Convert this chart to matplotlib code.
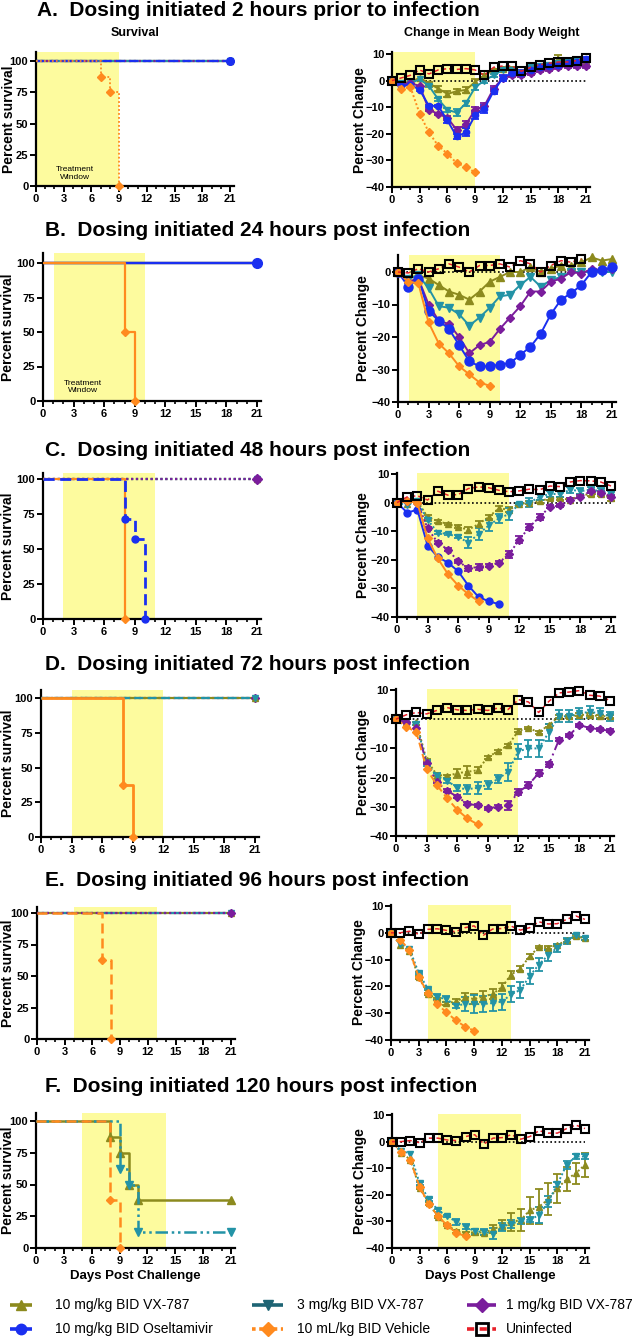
import numpy as np
import matplotlib
matplotlib.use('Agg')
import matplotlib.pyplot as plt
from matplotlib.lines import Line2D
from matplotlib.ticker import MultipleLocator

# ---------------- data ----------------
days = np.arange(22)
x_ticks = [0, 3, 6, 9, 12, 15, 18, 21]
surv_ticks = [0, 25, 50, 75, 100]

group_labels = ["10 mg/kg BID VX-787", "3 mg/kg BID VX-787", "1 mg/kg BID VX-787",
                "10 mg/kg BID Oseltamivir", "10 mL/kg BID Vehicle", "Uninfected"]

panel_titles = ["A.  Dosing initiated 2 hours prior to infection",
                "B.  Dosing initiated 24 hours post infection",
                "C.  Dosing initiated 48 hours post infection",
                "D.  Dosing initiated 72 hours post infection",
                "E.  Dosing initiated 96 hours post infection",
                "F.  Dosing initiated 120 hours post infection"]

# treatment windows (days)
win_A = [0, 9]
win_B = [1.1, 10]
win_C = [2, 11]
win_D = [3, 12]
win_E = [4, 13]
win_F = [5, 14]

# survival (time, percent)
A_veh_t = [0, 7, 8, 9];      A_veh_p = [100, 87.5, 75, 0]
B_veh_t = [0, 8, 9];         B_veh_p = [100, 50, 0]
C_veh_t = [0, 8];            C_veh_p = [100, 0]
C_osel_t = [0, 8, 9, 10];    C_osel_p = [100, 71.4, 57.1, 0]
D_veh_t = [0, 8, 9];         D_veh_p = [100, 37.5, 0]
E_veh_t = [0, 7, 8];         E_veh_p = [100, 62.5, 0]
F_veh_t = [0, 8, 9];         F_veh_p = [100, 37.5, 0]
F_vx10_t = [0, 8, 9, 10, 11, 21]; F_vx10_p = [100, 87.5, 75, 50, 37.5, 37.5]
F_vx3_t = [0, 9, 10, 11, 21];     F_vx3_p = [100, 62.5, 50, 12.5, 12.5]
full_t = [0, 21];            full_p = [100, 100]

# body weight (% change)
A_vx10 = [0, -1, -0.5, 1, -1, -3, -5, -4, -3.5, -0.5, 2, 4, 4.5, 4.5, 3, 5, 5.5, 6, 8, 7, 7.5, 7]
A_vx10_err = [0, 0, 0, 0, 0.5, 0.8, 1, 1, 1.2, 1, 0.5, 0.5, 0.5, 0.5, 0.5, 0.5, 0.5, 0.5, 1.8, 1, 1, 1]
A_vx3 = [0, -1, -1, 0.5, -2, -7, -11, -12, -8.5, -2.5, 0, 2, 4, 4, 3, 5, 5.5, 6, 6.5, 7, 7.5, 7.5]
A_vx3_err = [0, 0, 0, 0, 0.5, 0.5, 0.8, 1.2, 1, 1, 1, 0.5, 0.5, 0.5, 0.5, 0.5, 0.5, 0.5, 0.5, 0.5, 0.5, 0.5]
A_vx1 = [0, -1.5, -1, -2, -11, -12.5, -14, -18.5, -16.5, -11, -9.5, -3, 1, 2, 2, 3, 4, 4.5, 5, 5.5, 5.5, 5.5]
A_vx1_err = [0, 0, 0, 0, 0.5, 0.5, 0.8, 1, 1.2, 1.2, 1.2, 1, 0.8, 0.8, 0.8, 0.8, 0.8, 0.8, 0.8, 0.8, 0.8, 0.8]
A_osel = [0, -2, -1.5, -3.5, -9.5, -9.5, -15, -21, -19.5, -13, -10.5, -4, 1, 3, 3, 4, 5, 5.5, 6, 6.5, 7, 8]
A_osel_err = [0, 0, 0, 0.5, 0.5, 0.5, 0.8, 1, 1.5, 1.5, 1.5, 1.2, 1, 1, 1, 1, 1, 1, 1, 1, 1, 1]
A_veh = [0, -3, -2.5, -12.5, -19.5, -24.5, -27.5, -31, -32.5, -34.5]
A_uninf = [0, 1, 2, 4, 2.5, 4, 4.5, 4.2, 4.5, 4, 2, 5, 5.5, 5.5, 3.5, 5, 6, 6.5, 7, 7, 7.5, 8.5]

B_vx10 = [0, -2, -1, -2, -4, -6, -7, -8.5, -6, -3, -1.5, 0, 0, 1.5, 0, 1, 2, 2, 3, 4.5, 3.5, 4]
B_vx3 = [0, -2, -1, -5, -10.5, -11, -13, -16.5, -14, -11, -7.5, -7, -4, -1.5, -4.5, -2.5, -1.5, 0, 0, 0, 0, 0]
B_vx1 = [0, -3, -2, -10, -15, -16, -20, -25, -22.5, -21.5, -17.5, -14, -10.5, -6, -6, -3, -2, 0, -0.5, 1, 0.5, 1]
B_osel = [0, -4.5, -2, -12, -15, -17.5, -22.5, -27.5, -29, -29, -28.5, -28, -25.5, -23, -19, -13, -8.5, -6.5, -4, 0, 0.5, 1.5]
B_veh = [0, -3, -3.5, -15.5, -22, -25, -29, -31.5, -34, -35]
B_uninf = [0, -0.3, 1, 0, 1, 2.5, 1.5, 0, 2, 2, 2.5, 1.5, 3.5, 2.5, 0, 2, 3.5, 3, 4]

C_vx10 = [0, -0.5, 0.5, -5, -6.5, -7.5, -8.5, -9.5, -7.5, -5, -2, -2.5, -0.5, 0, 0.5, 1.5, 1.5, 1, 2.5, 3, 3, 1.5]
C_vx10_err = [0, 0, 0, 0.5, 0.5, 0.5, 0.5, 1, 1, 0.8, 0.8, 0.8, 0.5, 0.5, 0.5, 0.5, 0.5, 0.5, 0.5, 0.8, 0.8, 0.8]
C_vx3 = [0, -1, 0.5, -6, -10.5, -11, -12, -14, -11, -8, -5.5, -4, -0.5, 0, 2, 3, 3, 4.5, 4, 4.5, 4, 3]
C_vx3_err = [0, 0, 0, 0.5, 0.5, 0.5, 0.5, 2, 2, 2, 1.5, 2, 0.5, 1.5, 1, 1, 1, 1, 1, 1, 1, 1]
C_vx1 = [0, 0.5, 0, -9, -14, -16.5, -20.5, -23, -22.5, -22, -21, -18, -13, -8.5, -5, -1.5, -1, 1, 2, 4, 3.5, 2]
C_vx1_err = [0, 0, 0, 0.5, 0.5, 0.5, 0.5, 0.8, 1, 0.5, 0.5, 1.2, 1.2, 1, 1, 0.5, 0.5, 0.5, 0.5, 0.5, 0.5, 0.5]
C_osel = [0, -3.5, -2.5, -15, -19, -21, -24, -29, -33, -34.5, -35.5]
C_veh = [0, 0.5, 0, -12.5, -19.5, -25, -29, -32, -34.5]
C_uninf = [0, 2, 2.4, 0.9, 4, 2.6, 2.8, 4.9, 5.5, 5.2, 4.3, 3.8, 4.1, 4.7, 4.5, 5.8, 5.6, 7.2, 7.7, 7.6, 7.2, 5.8]

D_vx10 = [0, -1, -1, -14, -19, -19.5, -18.5, -18, -17.5, -13, -11, -9, -4, -3, -4.5, -2, 1, 1, 1.5, 1.5, 1, 1]
D_vx10_err = [0, 0, 0, 0.5, 0.5, 0.5, 1.5, 2, 1, 0.5, 0.5, 0.5, 0.5, 0.5, 0.5, 0.5, 0.5, 0.5, 0.5, 0.5, 0.5, 0.5]
D_vx3 = [0, -1, -1.5, -15, -19.5, -21, -23.5, -24, -23.5, -22.5, -20.5, -18, -11, -10, -10, -4.5, 1, 1, 2, 2.5, 2, 1]
D_vx3_err = [0, 0, 0.5, 1, 1, 1, 1, 1.5, 2, 1.5, 1.5, 3, 2.5, 3, 3, 3, 2, 2, 2, 2, 2, 1.5]
D_vx1 = [0, -1, -3, -15, -21.5, -24.5, -26.5, -29, -29.5, -30.5, -30, -29.5, -25, -22.5, -18.5, -15.5, -7, -5.5, -2, -3, -3.5, -4]
D_vx1_err = [0, 0, 0, 0.5, 0.5, 0.5, 0.5, 0.5, 0.5, 0.5, 0.5, 1.5, 1, 1, 1, 1, 0.5, 0.5, 0.5, 0.5, 0.5, 0.5]
D_veh = [0, -2.5, -4.5, -17, -22.5, -27, -31, -34, -36]
D_uninf = [0, 1.5, 2.3, 1.8, 3, 4, 3.2, 3, 3.4, 3, 3.8, 3.3, 6.7, 5.9, 2.3, 6.1, 9, 9.3, 9.8, 8.2, 7.9, 6.4]

E_vx10 = [0, -4.6, -6.8, -16.6, -22.8, -24.7, -26.3, -25.6, -24.1, -24.7, -23.8, -22.8, -20.3, -15.6, -13.4, -8.8, -5.3, -5.6, -4.6, -2.8, -1.3, -2.1]
E_vx10_err = [0, 0, 0, 0.5, 0.5, 0.5, 0.5, 1, 1.5, 2, 2, 2, 1.5, 1.5, 1, 1, 0.5, 0.5, 0.5, 0.5, 0.5, 0.5]
E_vx3 = [0, -4, -6, -15, -21, -24, -24.7, -27.2, -26.6, -26.6, -26.6, -26.2, -25.7, -23, -21.3, -16.2, -11.9, -8.4, -5.5, -3, -1, -2]
E_vx3_err = [0, 0, 0, 0.5, 0.5, 1, 1, 1, 2.5, 3.5, 3, 3, 3, 3, 3, 3, 2.5, 2, 1.5, 1, 0.5, 0.5]
E_veh = [0, -2.5, -6.5, -16.5, -22.5, -26.6, -29.7, -32.6, -35, -36.5]
E_uninf = [0, 0, 0.6, -0.5, 1.3, 1.5, 0.9, 0.4, 1.9, 2.6, -0.9, 1.4, 1.6, 2.5, 1, 1.9, 4.1, 3.3, 3.4, 5, 6.3, 5]

F_vx10 = [0, -4.2, -6.8, -17.3, -23.2, -28.3, -31.4, -33.7, -34.5, -34, -34.3, -33, -31.4, -30.2, -29.5, -25.8, -24.5, -21.7, -17.5, -14.2, -11.9, -8.7]
F_vx10_err = [0, 0, 0, 0.5, 0.5, 0.5, 0.5, 0.5, 0.5, 1, 1, 1.5, 2, 3.5, 4, 5, 6.5, 6, 5.5, 4.5, 4, 4.5]
F_vx3 = [0, -3.5, -4.5, -15.7, -21.7, -25.8, -28, -30.2, -32, -33.7, -34, -34.6, -32, -30.8, -29.9, -29.3, -27.7, -22.6, -16, -8.7, -5.6, -5.6]
F_vx3_err = [0, 0, 0, 0.5, 0.5, 0.5, 0.5, 1, 1, 1, 1, 2, 1.5, 1.5, 1, 1, 3, 2, 1, 1.5, 1, 1]
F_veh = [0, -4, -7, -17, -23.5, -28, -31.5, -34.3, -35.6]
F_uninf = [0, 0, 0.4, -0.4, 1.3, 1.3, 0.6, 0.4, 1.9, 2.6, -0.9, 1.3, 1.5, 2.6, 0.9, 1.9, 4.1, 3.2, 3.2, 4.9, 6.2, 4.9]

# ---------------- style ----------------
W, H = 642, 1341
plt.rcParams['font.family'] = ['Liberation Sans', 'DejaVu Sans']
plt.rcParams['lines.solid_capstyle'] = 'butt'

C_VX10 = '#8c8a1e'
C_VX3 = '#2393a6'
C_VX1 = '#7a1d9c'
C_OSEL = '#1a2ff0'
C_VEH = '#ff8a1e'
C_UNINF = '#e8212a'
YELLOW = '#fdfb9e'

fig = plt.figure(figsize=(W / 100, H / 100), dpi=100)


def axes_px(x0, x21, ybot, yref, vbot, vref, vmax, xmax=21.4):
    ppd = (x21 - x0) / 21.0
    ppu = (ybot - yref) / (vref - vbot)
    right = x0 + xmax * ppd
    top = ybot - (vmax - vbot) * ppu
    ax = fig.add_axes([x0 / W, 1 - ybot / H, (right - x0) / W, (ybot - top) / H])
    ax.set_xlim(0, xmax)
    ax.set_ylim(vbot, vmax)
    return ax


def style(ax, yticks):
    for s in ['top', 'right']:
        ax.spines[s].set_visible(False)
    for s in ['left', 'bottom']:
        ax.spines[s].set_linewidth(1.6)
    ax.set_xticks(x_ticks)
    ax.xaxis.set_minor_locator(MultipleLocator(1))
    ax.set_yticks(yticks)
    ax.tick_params(which='major', length=4, width=1.4, labelsize=8, pad=1.5)
    ax.tick_params(which='minor', length=2.5, width=1.2)
    for lab in ax.get_xticklabels() + ax.get_yticklabels():
        lab.set_fontweight('bold')
    ax.patch.set_alpha(0)


def window(ax, win):
    ax.axvspan(win[0], win[1], color=YELLOW, zorder=0, lw=0)


def surv(ax, t, p, color, ls, marker, ms, lw=1.6, z=3):
    ax.step(t, p, where='post', color=color, ls=ls, lw=lw, zorder=z, clip_on=False)
    ax.plot(t[1:], p[1:], ls='none', marker=marker, color=color, ms=ms, zorder=z + 0.5, clip_on=False)


def wt(ax, y, color, ls, marker, ms, err=None, z=3, uninf=False):
    x = days[:len(y)]
    y = np.asarray(y, float)
    if err is not None:
        e = np.asarray(err, float)
        m = e > 0
        ax.errorbar(x[m], y[m], yerr=e[m], fmt='none', ecolor=color, elinewidth=1.3,
                    capsize=2.8, capthick=1.3, zorder=z - 0.2, clip_on=False)
    if uninf:
        ax.plot(x, y, color=C_UNINF, ls=(0, (3, 2)), lw=1.1, zorder=z, clip_on=False)
        ax.plot(x, y, ls='none', marker='s', ms=6.3, mfc='none', mec='black', mew=1.5,
                zorder=z + 0.5, clip_on=False)
    else:
        ax.plot(x, y, color=color, ls=ls, lw=1.4, marker=marker, ms=ms, mec=color,
                zorder=z, clip_on=False)


def zero_line(ax):
    ax.plot([0, 21], [0, 0], color='black', ls=(0, (1, 1.5)), lw=1.2, zorder=1)


def title(y_px, text, x_px=45):
    fig.text(x_px / W, 1 - y_px / H, text, fontsize=15, fontweight='bold', va='center', ha='left')


def ylab(ax, x_px, text):
    pos = ax.get_position()
    fig.text(x_px / W, pos.y0 + pos.height / 2, text, rotation=90, fontsize=10,
             fontweight='bold', va='center', ha='center')


DOT = (0, (1, 1.2))
DASH = (0, (4, 2))
DASHDOT = (0, (5, 2, 1, 2))
DASHDOTDOT = (0, (5, 1.5, 1, 1.5, 1, 1.5))

# ---------------- Panel A ----------------
title(10, panel_titles[0], 37)
fig.text(135 / W, 1 - 33 / H, "Survival", fontsize=9, fontweight='bold', ha='center', va='center')
fig.text(492 / W, 1 - 33 / H, "Change in Mean Body Weight", fontsize=9, fontweight='bold',
         ha='center', va='center')

ax = axes_px(36, 230, 186, 61, 0, 100, 107)
window(ax, win_A)
surv(ax, full_t, full_p, C_VX10, '-', '^', 5)
surv(ax, full_t, full_p, C_VX3, '-', 'v', 5)
surv(ax, full_t, full_p, C_VX1, DOT, 'D', 4)
surv(ax, full_t, full_p, C_OSEL, DASH, 'o', 5.5, z=4)
surv(ax, A_veh_t, A_veh_p, C_VEH, DOT, 'D', 4, lw=1.3, z=5)
ax.text(4.2, 10, "Treatment\nWindow", fontsize=6, ha='center', va='center', linespacing=1.1)
style(ax, surv_ticks)
ylab(ax, 9, "Percent survival")

ax = axes_px(392, 586, 187, 54, -40, 10, 10.7)
window(ax, win_A)
zero_line(ax)
wt(ax, A_vx10, C_VX10, '-', '^', 5, A_vx10_err)
wt(ax, A_vx3, C_VX3, '-', 'v', 5, A_vx3_err)
wt(ax, A_vx1, C_VX1, '-', 'D', 3.8, A_vx1_err)
wt(ax, A_osel, C_OSEL, '-', 'o', 4.5, A_osel_err)
wt(ax, A_veh, C_VEH, DOT, 'D', 3.8)
wt(ax, A_uninf, None, None, None, None, uninf=True, z=6)
style(ax, [-40, -30, -20, -10, 0, 10])
ylab(ax, 360, "Percent Change")

# ---------------- Panel B ----------------
title(230, panel_titles[1])
ax = axes_px(43, 257, 401, 263, 0, 100, 107)
window(ax, win_B)
surv(ax, full_t, full_p, C_VX10, '-', '^', 5)
surv(ax, full_t, full_p, C_VX3, '-', 'v', 5)
surv(ax, full_t, full_p, C_VX1, '-', 'D', 4)
surv(ax, full_t, full_p, C_OSEL, '-', 'o', 7, z=4)
surv(ax, B_veh_t, B_veh_p, C_VEH, '-', 'D', 4.5, z=5)
ax.text(3.9, 10, "Treatment\nWindow", fontsize=6, ha='center', va='center', linespacing=1.1)
style(ax, surv_ticks)
ylab(ax, 8, "Percent survival")

ax = axes_px(398, 612, 402, 272, -40, 0, 5.2)
window(ax, win_B)
zero_line(ax)
wt(ax, B_vx10, C_VX10, '-', '^', 5.5)
wt(ax, B_vx3, C_VX3, '-', 'v', 5.5)
wt(ax, B_vx1, C_VX1, '-', 'D', 4.2)
wt(ax, B_osel, C_OSEL, '-', 'o', 6.5)
wt(ax, B_veh, C_VEH, '-', 'D', 4.2)
wt(ax, B_uninf, None, None, None, None, uninf=True, z=6)
style(ax, [-40, -30, -20, -10, 0])
ylab(ax, 363, "Percent Change")

# ---------------- Panel C ----------------
title(450, panel_titles[2])
ax = axes_px(43, 257, 619, 479, 0, 100, 104)
window(ax, win_C)
surv(ax, full_t, full_p, C_VX10, DOT, '^', 5)
surv(ax, full_t, full_p, C_VX3, DOT, 'v', 5)
surv(ax, full_t, full_p, C_VX1, DOT, 'D', 5, z=3.5)
surv(ax, C_veh_t, C_veh_p, C_VEH, '-', 'D', 4.5, z=4)
surv(ax, C_osel_t, C_osel_p, C_OSEL, DASH, 'o', 5, lw=2, z=5)
style(ax, surv_ticks)
ylab(ax, 8, "Percent survival")

ax = axes_px(397, 611, 617, 474, -40, 10, 10.3)
window(ax, win_C)
zero_line(ax)
wt(ax, C_vx10, C_VX10, DOT, '^', 5, C_vx10_err)
wt(ax, C_vx3, C_VX3, DOT, 'v', 5, C_vx3_err)
wt(ax, C_vx1, C_VX1, DOT, 'D', 4, C_vx1_err)
wt(ax, C_osel, C_OSEL, '-', 'o', 5)
wt(ax, C_veh, C_VEH, '-', 'D', 4)
wt(ax, C_uninf, None, None, None, None, uninf=True, z=6)
style(ax, [-40, -30, -20, -10, 0, 10])
ylab(ax, 363, "Percent Change")

# ---------------- Panel D ----------------
title(665, panel_titles[3])
ax = axes_px(41, 255, 837, 698, 0, 100, 106)
window(ax, win_D)
surv(ax, full_t, full_p, C_VX1, DOT, 'D', 4)
surv(ax, full_t, full_p, C_VX10, '-', '^', 5)
surv(ax, full_t, full_p, C_VX3, DASH, 'v', 5, z=3.5)
surv(ax, D_veh_t, D_veh_p, C_VEH, '-', 'D', 4.5, lw=2, z=5)
style(ax, surv_ticks)
ylab(ax, 8, "Percent survival")

ax = axes_px(396, 610, 836, 690, -40, 10, 10.5)
window(ax, win_D)
zero_line(ax)
wt(ax, D_vx10, C_VX10, DOT, '^', 5, D_vx10_err)
wt(ax, D_vx3, C_VX3, DOT, 'v', 5, D_vx3_err)
wt(ax, D_vx1, C_VX1, DASHDOT, 'D', 4, D_vx1_err)
wt(ax, D_veh, C_VEH, DASH, 'D', 4)
wt(ax, D_uninf, None, None, None, None, uninf=True, z=6)
style(ax, [-40, -30, -20, -10, 0, 10])
ylab(ax, 363, "Percent Change")

# ---------------- Panel E ----------------
title(881, panel_titles[4])
ax = axes_px(37, 231, 1039, 913, 0, 100, 105)
window(ax, win_E)
surv(ax, full_t, full_p, C_VX10, '-', '^', 5)
surv(ax, full_t, full_p, C_VX3, DASHDOT, 'v', 5, z=3.5)
surv(ax, full_t, full_p, C_VX1, DOT, 'D', 4, z=3.6)
surv(ax, E_veh_t, E_veh_p, C_VEH, DASH, 'D', 4.5, lw=1.8, z=5)
style(ax, surv_ticks)
ylab(ax, 8, "Percent survival")

ax = axes_px(391, 585, 1040, 906, -40, 10, 10.5)
window(ax, win_E)
zero_line(ax)
wt(ax, E_vx10, C_VX10, DOT, '^', 5, E_vx10_err)
wt(ax, E_vx3, C_VX3, DOT, 'v', 5, E_vx3_err)
wt(ax, E_veh, C_VEH, DASH, 'D', 3.8)
wt(ax, E_uninf, None, None, None, None, uninf=True, z=6)
style(ax, [-40, -30, -20, -10, 0, 10])
ylab(ax, 359, "Percent Change")

# ---------------- Panel F ----------------
title(1086, panel_titles[5])
ax = axes_px(36, 231, 1248, 1121, 0, 100, 106)
window(ax, win_F)
surv(ax, F_vx10_t, F_vx10_p, C_VX10, '-', '^', 5.5, lw=1.8)
surv(ax, F_vx3_t, F_vx3_p, C_VX3, DASHDOTDOT, 'v', 5.5, lw=1.8, z=4)
surv(ax, F_veh_t, F_veh_p, C_VEH, DASH, 'D', 4.5, lw=1.8, z=5)
style(ax, surv_ticks)
ylab(ax, 8, "Percent survival")
ax.set_xlabel("Days Post Challenge", fontsize=9.5, fontweight='bold', labelpad=3)

ax = axes_px(392, 585, 1248, 1115, -40, 10, 10.5)
window(ax, win_F)
zero_line(ax)
wt(ax, F_vx10, C_VX10, DOT, '^', 5, F_vx10_err)
wt(ax, F_vx3, C_VX3, DOT, 'v', 5, F_vx3_err)
wt(ax, F_veh, C_VEH, DASH, 'D', 3.8)
wt(ax, F_uninf, None, None, None, None, uninf=True, z=6)
style(ax, [-40, -30, -20, -10, 0, 10])
ylab(ax, 360, "Percent Change")
ax.set_xlabel("Days Post Challenge", fontsize=9.5, fontweight='bold', labelpad=3)

# ---------------- Legend ----------------
leg_specs = [
    (group_labels[0], C_VX10, '-', '^', C_VX10, 10, 32, 55, 1305),
    (group_labels[1], '#1e6474', '-', 'v', '#1e6474', 252, 283, 297, 1305),
    (group_labels[2], C_VX1, '-', 'D', C_VX1, 467, 496, 506, 1305),
    (group_labels[3], C_OSEL, '-', 'o', C_OSEL, 10, 32, 55, 1329),
    (group_labels[4], C_VEH, (0, (1, 1)), 'D', C_VEH, 252, 283, 297, 1329),
    (group_labels[5], C_UNINF, (0, (2, 1.5)), 's', 'black', 467, 496, 506, 1329),
]
for lab, col, ls, mk, mcol, x1, x2, xt, yy in leg_specs:
    yf = 1 - yy / H
    fig.add_artist(Line2D([x1 / W, x2 / W], [yf, yf], color=col, ls=ls, lw=2.6,
                          transform=fig.transFigure))
    if mk == 's':
        fig.add_artist(Line2D([(x1 + x2) / 2 / W], [yf], marker='s', ms=8, mfc='none', mec='black',
                              mew=2, transform=fig.transFigure))
    else:
        fig.add_artist(Line2D([(x1 + x2) / 2 / W], [yf], marker=mk, ms=7.5, color=mcol,
                              transform=fig.transFigure))
    fig.text(xt / W, yf, lab, fontsize=10, va='center', ha='left')

fig.savefig('out.png', dpi=100)
